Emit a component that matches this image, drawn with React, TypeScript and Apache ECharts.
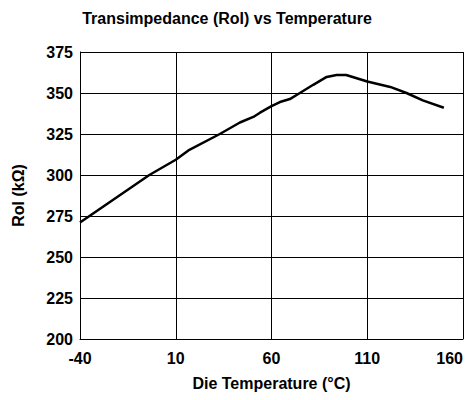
import React, { useEffect, useRef } from "react";
import * as echarts from "echarts";

const temperatures = [-40, -3.8, 10, 16.6, 33, 43.5, 50.5, 54, 60, 64.4, 69.6, 74.8, 81.8, 88.8, 94, 99, 104.5, 110, 122, 130.5, 139, 150];
const roiValues = [271, 300, 309.3, 315, 325, 332, 335.4, 338, 342, 344.5, 346.3, 350, 355, 359.8, 361, 361, 359, 357, 353.7, 350, 345.5, 341];

const titleText = "Transimpedance (RoI) vs Temperature";
const xName = "Die Temperature (°C)";
const yName = "RoI (kΩ)";

export default function App() {
  const ref = useRef<HTMLDivElement>(null);
  useEffect(() => {
    if (!ref.current) return;
    const chart = echarts.init(ref.current, null, { renderer: "svg" });
    const font = "'Liberation Sans', Arial, sans-serif";
    chart.setOption({
      animation: false,
      backgroundColor: "#ffffff",
      title: {
        text: titleText,
        left: 222,
        top: 5,
        textAlign: "center",
        textStyle: { fontFamily: font, fontWeight: "bold", fontSize: 16, color: "#000" },
      },
      grid: { left: 80, top: 52, right: 13, bottom: 61, containLabel: false },
      xAxis: {
        type: "value",
        min: -40,
        max: 160,
        interval: 50,
        name: xName,
        nameLocation: "middle",
        nameGap: 36,
        nameTextStyle: { fontFamily: font, fontWeight: "bold", fontSize: 16, color: "#000" },
        axisLine: { show: true, onZero: false, lineStyle: { color: "#000", width: 1 } },
        axisTick: { show: false },
        axisLabel: { fontFamily: font, fontWeight: "bold", fontSize: 16, color: "#000", margin: 11, alignMaxLabel: "right" },
        splitLine: { show: true, lineStyle: { color: "#000", width: 1 } },
      },
      yAxis: {
        type: "value",
        min: 200,
        max: 375,
        interval: 25,
        name: yName,
        nameLocation: "middle",
        nameGap: 54,
        nameTextStyle: { fontFamily: font, fontWeight: "bold", fontSize: 16, color: "#000" },
        axisLine: { show: true, onZero: false, lineStyle: { color: "#000", width: 1 } },
        axisTick: { show: false },
        axisLabel: { fontFamily: font, fontWeight: "bold", fontSize: 16, color: "#000", margin: 7 },
        splitLine: { show: true, lineStyle: { color: "#000", width: 1 } },
      },
      series: [
        {
          type: "line",
          data: temperatures.map((t, i) => [t, roiValues[i]]),
          showSymbol: false,
          smooth: false,
          lineStyle: { color: "#000", width: 2.5 },
        },
      ],
    });
    return () => chart.dispose();
  }, []);
  return <div ref={ref} style={{ width: 476, height: 400, position: "absolute", left: 0, top: 0 }} />;
}
